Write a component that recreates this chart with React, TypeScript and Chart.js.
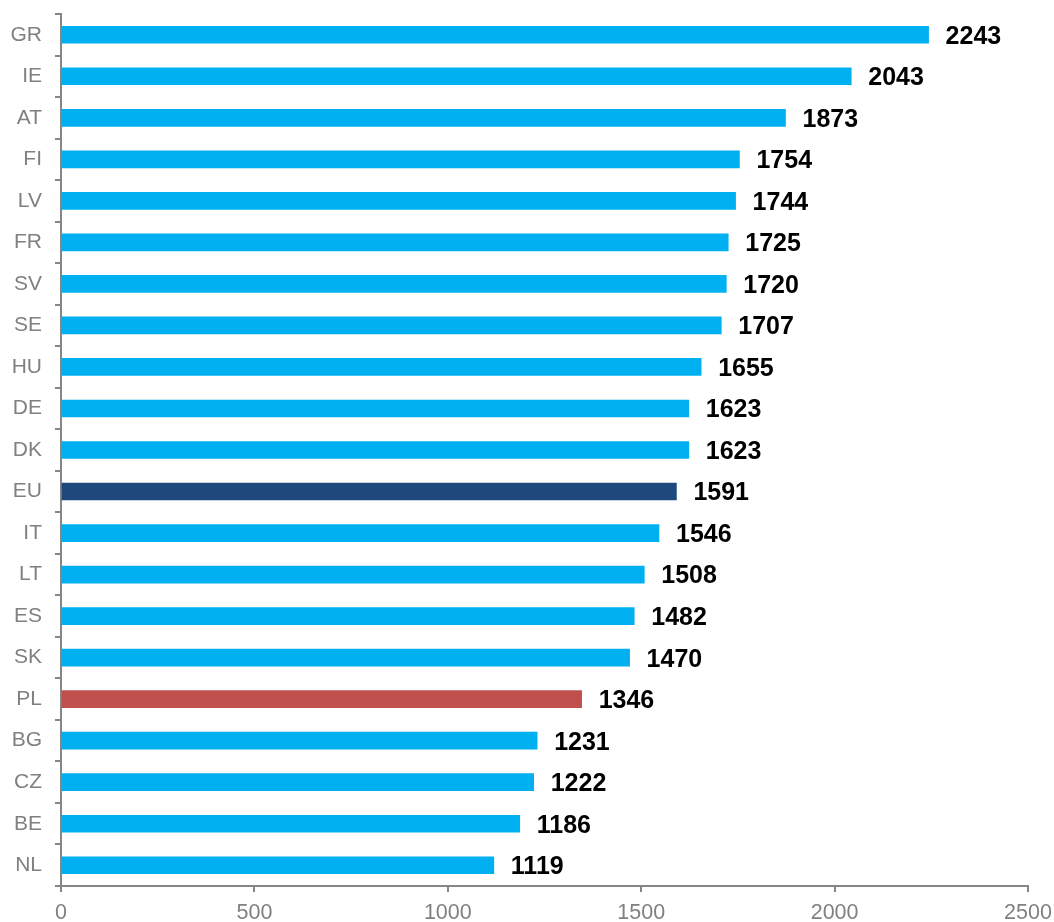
import React, { useEffect, useRef } from "react";
import { Chart, registerables } from "chart.js";

Chart.register(...registerables);

const countries = ["GR","IE","AT","FI","LV","FR","SV","SE","HU","DE","DK","EU","IT","LT","ES","SK","PL","BG","CZ","BE","NL"];
const values = [2243,2043,1873,1754,1744,1725,1720,1707,1655,1623,1623,1591,1546,1508,1482,1470,1346,1231,1222,1186,1119];
const xTicks = [0, 500, 1000, 1500, 2000, 2500];

const BLUE = "#00B0F0";
const NAVY = "#1F497D";
const RED = "#C0504D";
const AXIS = "#868686";
const LABEL = "#808080";
const FONT = "'Liberation Sans', Arial, sans-serif";

const barColors = countries.map((c) => (c === "EU" ? NAVY : c === "PL" ? RED : BLUE));

const valueLabels = {
  id: "valueLabels",
  afterDatasetsDraw(chart: any) {
    const ctx = chart.ctx;
    const meta = chart.getDatasetMeta(0);
    ctx.save();
    ctx.font = "bold 25px " + FONT;
    ctx.fillStyle = "#000000";
    ctx.textAlign = "left";
    ctx.textBaseline = "middle";
    meta.data.forEach((bar: any, i: number) => {
      ctx.fillText(String(values[i]), bar.x + 17, bar.y + 2);
    });
    ctx.restore();
  },
};

export default function App() {
  const ref = useRef<HTMLCanvasElement>(null);
  useEffect(() => {
    if (!ref.current) return;
    const chart = new Chart(ref.current, {
      type: "bar",
      data: {
        labels: countries,
        datasets: [
          {
            data: values,
            backgroundColor: barColors,
            barThickness: 17,
            borderWidth: 0,
          },
        ],
      },
      options: {
        indexAxis: "y",
        animation: false,
        responsive: false,
        maintainAspectRatio: false,
        layout: { padding: { top: 14, right: 26, left: 0, bottom: 0 } },
        plugins: { legend: { display: false }, tooltip: { enabled: false } },
        scales: {
          x: {
            type: "linear",
            min: 0,
            max: 2500,
            afterBuildTicks: (s: any) => {
              s.ticks = xTicks.map((v) => ({ value: v }));
            },
            afterFit: (s: any) => {
              s.height = 36;
              s.paddingLeft = 0;
              s.paddingRight = 0;
            },
            border: { display: true, color: AXIS, width: 2 },
            grid: { drawOnChartArea: false, drawTicks: true, tickLength: 6, color: AXIS, lineWidth: 2 },
            ticks: {
              color: LABEL,
              font: { family: FONT, size: 21.5 },
              padding: 8,
              maxRotation: 0,
              callback: (v: any) => String(v),
            },
          },
          y: {
            type: "category",
            afterFit: (s: any) => {
              s.width = 61;
              s.paddingTop = 0;
              s.paddingBottom = 0;
            },
            border: { display: true, color: AXIS, width: 2 },
            grid: { drawOnChartArea: false, drawTicks: true, tickLength: 6, color: AXIS, lineWidth: 2, offset: true },
            ticks: {
              color: LABEL,
              font: { family: FONT, size: 21 },
              padding: 13,
            },
          },
        },
      },
      plugins: [valueLabels],
    });
    return () => chart.destroy();
  }, []);
  return (
    <div style={{ position: "fixed", left: 0, top: 0, width: 1054, height: 922, background: "#fff" }}>
      <canvas ref={ref} width={1054} height={922} style={{ width: 1054, height: 922 }} />
    </div>
  );
}
